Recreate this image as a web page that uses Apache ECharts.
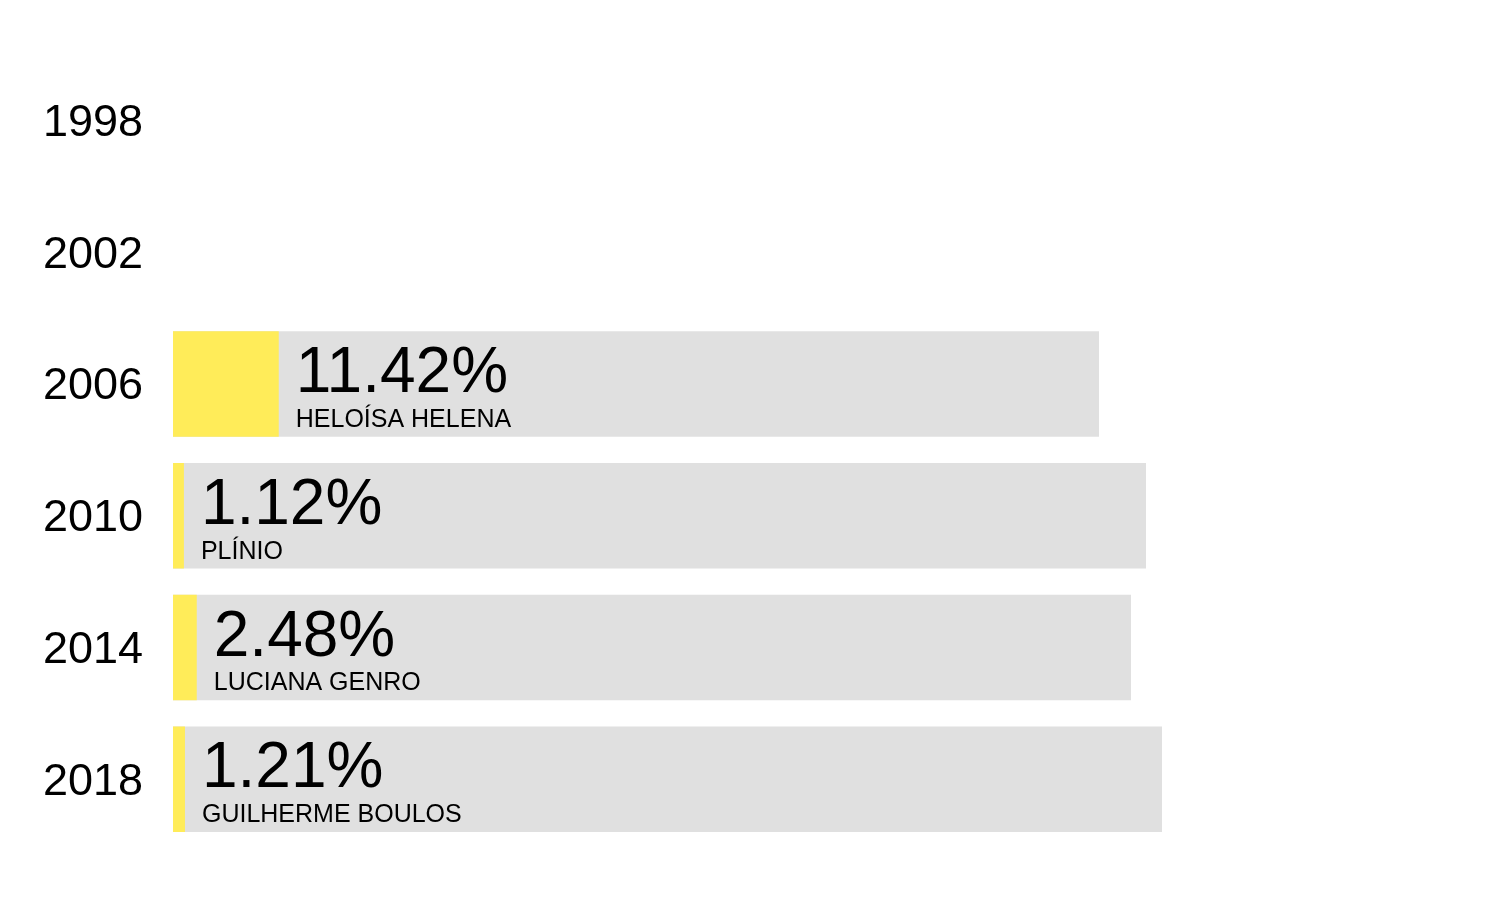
<!DOCTYPE html>
<html>
<head>
<meta charset="utf-8">
<script src="https://cdn.jsdelivr.net/npm/echarts@6/dist/echarts.min.js"></script>
<style>
html,body{margin:0;padding:0;background:#fff;}
#chart{width:1500px;height:900px;}
</style>
</head>
<body>
<div id="chart"></div>
<script>
// Data
const years = ['1998', '2002', '2006', '2010', '2014', '2018'];
const candidates = [null, null, 'HELOÍSA HELENA', 'PLÍNIO', 'LUCIANA GENRO', 'GUILHERME BOULOS'];
const percents = [null, null, 11.42, 1.12, 2.48, 1.21];
// length of the grey (total) bar, arbitrary units
const totals = [null, null, 92.6, 97.3, 95.8, 98.9];

const FONT = '"Liberation Sans", Arial, Helvetica, sans-serif';

const yellowData = percents.map((p, i) => (p == null ? null : totals[i] * p / 100));

const chart = echarts.init(document.getElementById('chart'), null, {renderer: 'canvas'});
chart.setOption({
  animation: false,
  backgroundColor: '#ffffff',
  grid: {left: 173, right: 27, top: 54.6, height: 790.5, containLabel: false},
  xAxis: {
    type: 'value', min: 0, max: 130,
    show: false
  },
  yAxis: {
    type: 'category',
    data: years,
    inverse: true,
    axisLine: {show: false},
    axisTick: {show: false},
    splitLine: {show: false},
    axisLabel: {
      margin: 30,
      color: '#000',
      fontFamily: FONT,
      formatter: function (v) { return '{s| }\n{y|' + v + '}'; },
      rich: {
        s: {fontSize: 4, lineHeight: 6, fontFamily: FONT},
        y: {fontSize: 45, lineHeight: 50, color: '#000', fontFamily: FONT}
      }
    }
  },
  series: [
    {
      name: 'total',
      type: 'bar',
      data: totals,
      barCategoryGap: '20%',
      itemStyle: {color: '#e0e0e0'},
      silent: true
    },
    {
      name: 'percent',
      type: 'bar',
      data: yellowData,
      barGap: '-100%',
      barCategoryGap: '20%',
      itemStyle: {color: '#ffec59'},
      label: {
        show: true,
        position: 'right',
        distance: 17,
        formatter: function (params) {
          const i = params.dataIndex;
          if (percents[i] == null) return '';
          return '{p|' + percents[i].toFixed(2) + '%}\n{n|' + candidates[i] + '}';
        },
        rich: {
          p: {fontSize: 64, lineHeight: 72, color: '#000', fontFamily: FONT},
          n: {fontSize: 25, lineHeight: 19, color: '#000', fontFamily: FONT}
        }
      }
    }
  ]
});
</script>
</body>
</html>
